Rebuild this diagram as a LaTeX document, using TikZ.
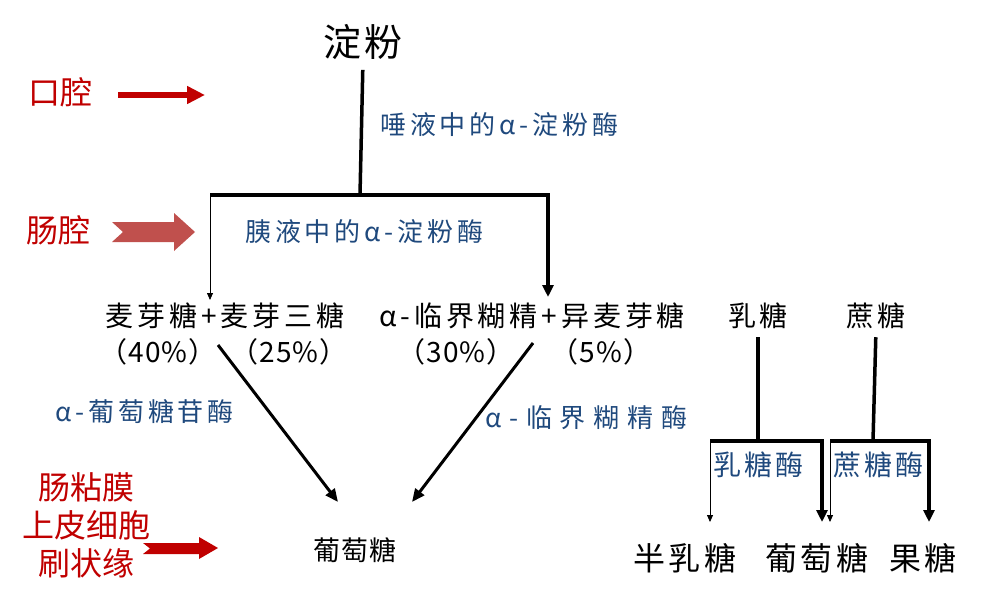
\documentclass[tikz,border=0pt]{standalone}
\usepackage{fontspec}
\setmainfont{Noto Sans CJK SC}
\newfontfamily\zhsugar[LetterSpace=14]{Noto Sans CJK SC}
\newfontfamily\zhwide[LetterSpace=10]{Noto Sans CJK SC}
\newfontfamily\zhnarrow[LetterSpace=4]{Noto Sans CJK SC}
\newfontfamily\zhenz[LetterSpace=15]{Noto Sans CJK SC}
\newfontfamily\zhenzwide[LetterSpace=30]{Noto Sans CJK SC}
\newfontfamily\zhenzbig[LetterSpace=12]{Noto Sans CJK SC}
\usetikzlibrary{arrows.meta}
\definecolor{enzblue}{HTML}{1F497D}
\definecolor{gutred}{HTML}{C00000}
\definecolor{lumred}{HTML}{C0504D}
\tikzset{
  sugar/.style={font=\zhsugar\fontsize{28}{32}\selectfont, inner sep=0pt},
  share/.style={font=\zhnarrow\fontsize{28}{32}\selectfont, inner sep=0pt},
  product/.style={font=\zhwide\fontsize{32}{36}\selectfont, inner sep=0pt},
  enzyme/.style={font=\zhenz\fontsize{26}{30}\selectfont, text=enzblue, inner sep=0pt, anchor=west},
  site/.style={font=\fontsize{32}{38}\selectfont, text=gutred, inner sep=0pt, align=center},
  trunk/.style={line width=3.5pt},
  thinarrow/.style={line width=0.8pt, -{Triangle[length=7pt,width=6pt]}},
  fatarrow/.style={line width=3.5pt, -{Triangle[length=12pt,width=11pt]}},
  diagarrow/.style={line width=3pt, -{Triangle[length=13pt,width=11pt]}},
}

\begin{document}
\begin{tikzpicture}[x=1pt,y=-1pt]
  \useasboundingbox (0,0) rectangle (982,602);
  % sites
  \node[site] (mouth) at (60,92) {口腔};
  \node[site] (lumen) at (59,230) {肠腔};
  \node[site] (mucosa) at (86,525) {肠粘膜\\上皮细胞\\刷状缘};
  \coordinate (m1) at (118,95);
  \coordinate (m2) at (205,95);
  \draw[line width=6pt, gutred, -{Triangle[length=18pt,width=17pt]}] (m1) -- (m2);
  \fill[lumred] (112,222) -- (174,222) -- (174,213) -- (195,232) -- (174,251)
    -- (174,242) -- (112,242) -- (123,232) -- cycle;
  \fill[gutred] (143,543) -- (199,543) -- (199,537) -- (218,548) -- (199,559)
    -- (199,554) -- (143,554) -- (150,548.5) -- cycle;

  % sugars
  \node[font=\zhwide\fontsize{38}{42}\selectfont, inner sep=0pt] (starch) at (363,42) {淀粉};
  \node[sugar] (maltose) at (225,316) {麦芽糖+麦芽三糖};
  \node[sugar] (dextrin) at (532,316) {α-临界糊精+异麦芽糖};
  \node[sugar] (lactose) at (758,316) {乳糖};
  \node[sugar] (sucrose) at (876,316) {蔗糖};
  \node[share] (pct40) at (158,352) {（40\%）};
  \node[share] (pct25) at (289,352) {（25\%）};
  \node[share] (pct30) at (456,352) {（30\%）};
  \node[share] (pct5) at (601,352) {（5\%）};
  \node[sugar, font=\zhnarrow\fontsize{27}{31}\selectfont] (glucose) at (355,550) {葡萄糖};
  \node[product] (galactose) at (685,558) {半乳糖};
  \node[product] (glucoseb) at (817,558) {葡萄糖};
  \node[product] (fructose) at (923,558) {果糖};

  % enzymes
  \node[enzyme] (saliva) at (380,125) {唾液中的α-淀粉酶};
  \node[enzyme] (pancreas) at (245,232) {胰液中的α-淀粉酶};
  \node[enzyme] (glucosidase) at (55,412) {α-葡萄糖苷酶};
  \node[enzyme, font=\zhenzwide\fontsize{26}{30}\selectfont] (dextrinase) at (485,418) {α-临界糊精酶};
  \node[enzyme, font=\zhenzbig\fontsize{28}{32}\selectfont] (lactase) at (713,465) {乳糖酶};
  \node[enzyme, font=\zhenzbig\fontsize{28}{32}\selectfont] (sucrase) at (833,465) {蔗糖酶};

  % starch tree
  \coordinate (j0) at (360,195);
  \coordinate (jl) at (210,195);
  \coordinate (jr) at (548,195);
  \coordinate (el) at (210,300);
  \coordinate (er) at (548,297);
  \draw[trunk, shorten <=10pt] (starch.south) -- (j0);
  \draw[fatarrow] (jl) -- (jr) -- (er);
  \draw[thinarrow] (jl) -- (el);
  \coordinate (d1) at (218,345);
  \coordinate (d2) at (338,502);
  \coordinate (d3) at (533,343);
  \coordinate (d4) at (412,502);
  \draw[diagarrow] (d1) -- (d2);
  \draw[diagarrow] (d3) -- (d4);

  % lactose tree
  \coordinate (k0) at (758,441);
  \coordinate (kl) at (710,441);
  \coordinate (kr) at (822,441);
  \coordinate (kle) at (710,522);
  \coordinate (kre) at (822,522);
  \draw[trunk, shorten <=8pt] (lactose.south) -- (k0);
  \draw[fatarrow] (kl) -- (kr) -- (kre);
  \draw[thinarrow] (kl) -- (kle);

  % sucrose tree
  \coordinate (s0) at (873,441);
  \coordinate (sl) at (830,441);
  \coordinate (sr) at (929,441);
  \coordinate (sle) at (830,522);
  \coordinate (sre) at (929,522);
  \draw[trunk, shorten <=8pt] (sucrose.south) -- (s0);
  \draw[fatarrow] (sl) -- (sr) -- (sre);
  \draw[thinarrow] (sl) -- (sle);
\end{tikzpicture}
\end{document}
